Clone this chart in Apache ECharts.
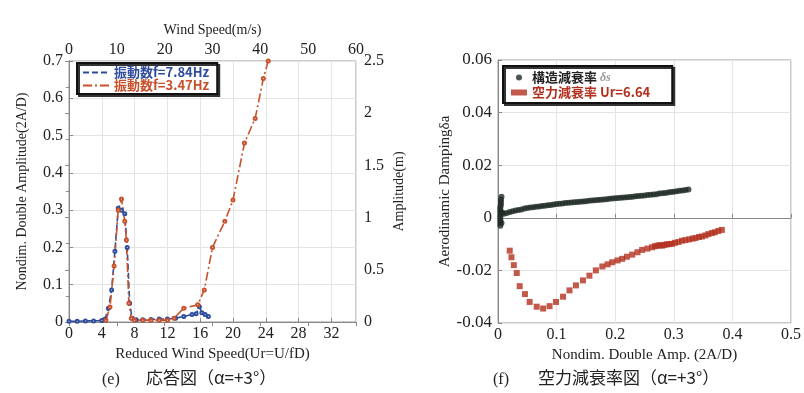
<!DOCTYPE html>
<html>
<head>
<meta charset="utf-8">
<script src="https://cdn.jsdelivr.net/npm/echarts@6/dist/echarts.min.js"></script>
<style>
  html, body { margin: 0; padding: 0; background: #fff; }
  #chart { width: 804px; height: 393px; }
</style>
</head>
<body>
<div id="chart"></div>
<script>
// (e) response: reduced wind speed vs nondim. double amplitude
const blueUr = [0, 1, 2, 3, 4, 4.4, 4.8, 5.2, 5.6, 6.0, 6.4, 6.8, 7.1, 7.4, 7.7, 8.2, 9, 10, 11, 12, 13, 14, 15, 15.5, 15.9, 16.2, 16.6, 17];
const blueAmp = [0.002, 0.002, 0.003, 0.003, 0.004, 0.008, 0.037, 0.086, 0.19, 0.305, 0.3, 0.29, 0.2, 0.05, 0.01, 0.006, 0.006, 0.007, 0.008, 0.008, 0.01, 0.015, 0.02, 0.022, 0.041, 0.025, 0.02, 0.015];
const redUr = [4.5, 5.0, 5.5, 6.0, 6.4, 6.8, 7.0, 7.3, 7.6, 8, 9, 10, 11, 12, 12.8, 14, 15.7, 16.5, 17.5, 19.0, 20.0, 21.4, 22.7, 23.7, 24.3];
const redAmp = [0.005, 0.04, 0.15, 0.3, 0.33, 0.27, 0.22, 0.05, 0.01, 0.005, 0.005, 0.005, 0.005, 0.005, 0.01, 0.037, 0.046, 0.086, 0.2, 0.27, 0.327, 0.48, 0.546, 0.653, 0.7];

// (f) damping: nondim. double amp vs damping
const structAmp = [0.004, 0.004, 0.004, 0.004, 0.004, 0.004, 0.004, 0.004, 0.005, 0.005, 0.005, 0.006, 0.006, 0.007,
  0.01, 0.015, 0.02, 0.025, 0.03, 0.035, 0.04, 0.045, 0.05, 0.055, 0.06, 0.065, 0.07, 0.075, 0.08, 0.085, 0.09, 0.095,
  0.1, 0.105, 0.11, 0.115, 0.12, 0.125, 0.13, 0.135, 0.14, 0.145, 0.15, 0.155, 0.16, 0.165, 0.17, 0.175, 0.18, 0.185,
  0.19, 0.195, 0.2, 0.205, 0.21, 0.215, 0.22, 0.225, 0.23, 0.235, 0.24, 0.245, 0.25, 0.255, 0.26, 0.265, 0.27, 0.275,
  0.28, 0.285, 0.29, 0.295, 0.3, 0.305, 0.31, 0.315, 0.32, 0.325];
const structDamp = [-0.003, -0.002, -0.001, 0, 0.001, 0.002, 0.003, 0.004, 0.005, 0.006, 0.007, 0.008, -0.002, 0.002,
  0.0015, 0.0018, 0.0022, 0.0025, 0.0028, 0.003, 0.0032, 0.0035, 0.0037, 0.0039, 0.004, 0.0042, 0.0043, 0.0045, 0.0046, 0.0048, 0.0049, 0.0051,
  0.0052, 0.0053, 0.0054, 0.0056, 0.0057, 0.0058, 0.0059, 0.006, 0.0061, 0.0062, 0.0063, 0.0065, 0.0066, 0.0067, 0.0068, 0.0069, 0.007, 0.0071,
  0.0072, 0.0073, 0.0074, 0.0075, 0.0076, 0.0077, 0.0078, 0.0079, 0.008, 0.0082, 0.0083, 0.0084, 0.0085, 0.0087, 0.0088, 0.0089, 0.009, 0.0092,
  0.0093, 0.0094, 0.0096, 0.0098, 0.0099, 0.0101, 0.0103, 0.0104, 0.0106, 0.0108];
const aeroAmp = [0.02, 0.023, 0.027, 0.032, 0.037, 0.046, 0.054, 0.066, 0.077, 0.088, 0.099, 0.111, 0.122, 0.133, 0.145,
  0.156, 0.167, 0.178, 0.187, 0.195, 0.204, 0.212, 0.22, 0.229, 0.238, 0.246, 0.255, 0.263, 0.268, 0.272, 0.276, 0.28,
  0.284, 0.288, 0.292, 0.297, 0.302, 0.308, 0.314, 0.32, 0.326, 0.332, 0.337, 0.343, 0.348, 0.354, 0.359, 0.365, 0.37, 0.376, 0.382];
const aeroDamp = [-0.0125, -0.015, -0.018, -0.021, -0.026, -0.029, -0.032, -0.0338, -0.0345, -0.0336, -0.032, -0.03, -0.0276, -0.0257, -0.0238,
  -0.022, -0.02, -0.0185, -0.0177, -0.0169, -0.0162, -0.0156, -0.0148, -0.014, -0.0131, -0.0122, -0.0117, -0.0112, -0.0108, -0.0106, -0.0104, -0.0106,
  -0.0103, -0.0101, -0.01, -0.0099, -0.0095, -0.0092, -0.0087, -0.0085, -0.0082, -0.0079, -0.0077, -0.0073, -0.0071, -0.0067, -0.0062, -0.0058, -0.0055, -0.005, -0.0046];

const zip = (xs, ys) => xs.map((x, i) => [x, ys[i]]);

const serif = 'Liberation Serif';
const cjk = 'Noto Sans CJK JP';
const blue = '#2d4c9c';
const red = '#c8502a';
const dred = '#b3301e';

const axisCommon = {
  axisLine: { lineStyle: { color: '#888' } },
  axisTick: { inside: true, length: 4, lineStyle: { color: '#888' } },
  axisLabel: { color: '#222', fontFamily: serif, fontSize: 16 },
  nameTextStyle: { color: '#222', fontFamily: serif, fontSize: 15 },
  nameLocation: 'middle',
};
const grid = { lineStyle: { color: '#e4e4e4' } };

const chart = echarts.init(document.getElementById('chart'));
chart.setOption({
  backgroundColor: '#fff',
  animation: false,
  grid: [
    { left: 69, top: 61, width: 287, height: 261, show: true, borderColor: '#999' },
    { left: 498, top: 60, width: 295, height: 263, show: true, borderColor: '#999' },
  ],
  xAxis: [
    Object.assign({}, axisCommon, {
      gridIndex: 0, type: 'value', min: 0, max: 35, interval: 4, position: 'bottom',
      name: 'Reduced Wind Speed(Ur=U/fD)', nameGap: 22,
      axisLabel: Object.assign({}, axisCommon.axisLabel, { showMaxLabel: false, margin: 4 }),
      splitLine: grid,
    }),
    Object.assign({}, axisCommon, {
      gridIndex: 0, type: 'value', min: 0, max: 60, interval: 10, position: 'top',
      name: 'Wind Speed(m/s)', nameGap: 21,
      axisLabel: Object.assign({}, axisCommon.axisLabel, { margin: 3 }),
      nameTextStyle: Object.assign({}, axisCommon.nameTextStyle, { fontSize: 14 }),
      splitLine: { show: false },
    }),
    Object.assign({}, axisCommon, {
      gridIndex: 1, type: 'value', min: 0, max: 0.5, interval: 0.1,
      name: 'Nondim. Double Amp. (2A/D)', nameGap: 22,
      axisLabel: Object.assign({}, axisCommon.axisLabel, { margin: 4 }),
      splitLine: grid,
    }),
  ],
  yAxis: [
    Object.assign({}, axisCommon, {
      gridIndex: 0, type: 'value', min: 0, max: 0.7, interval: 0.1,
      name: 'Nondim. Double Amplitude(2A/D)', nameGap: 40,
      axisLabel: Object.assign({}, axisCommon.axisLabel, { margin: 6 }),
      nameTextStyle: Object.assign({}, axisCommon.nameTextStyle, { fontSize: 14 }),
      splitLine: grid,
    }),
    Object.assign({}, axisCommon, {
      gridIndex: 0, type: 'value', min: 0, max: 2.5, interval: 0.5, position: 'right',
      name: 'Amplitude(m)', nameGap: 36,
      nameTextStyle: Object.assign({}, axisCommon.nameTextStyle, { fontSize: 14 }),
      minorTick: { show: true, splitNumber: 2, length: 3, lineStyle: { color: '#888' } },
      splitLine: { show: false },
    }),
    Object.assign({}, axisCommon, {
      gridIndex: 1, type: 'value', min: -0.04, max: 0.06, interval: 0.02,
      name: 'Aerodinamic Dampingδa', nameGap: 44,
      axisLabel: Object.assign({}, axisCommon.axisLabel, { fontSize: 17, margin: 6 }),
      splitLine: grid,
    }),
  ],
  legend: [
    {
      left: 77, top: 63, orient: 'vertical', itemGap: 0, itemWidth: 26, itemHeight: 10,
      padding: [3, 8, 2, 5], borderColor: '#111', borderWidth: 2, backgroundColor: '#fff',
      shadowColor: '#333', shadowOffsetX: 2, shadowOffsetY: 2, shadowBlur: 0,
      itemStyle: { opacity: 0 },
      textStyle: { fontFamily: cjk, fontWeight: 'bold', fontSize: 13 },
      data: [
        { name: '振動数f=7.84Hz', textStyle: { color: blue } },
        { name: '振動数f=3.47Hz', textStyle: { color: red } },
      ],
    },
    {
      left: 503, top: 66, orient: 'vertical', itemGap: 2, itemWidth: 16, itemHeight: 6,
      padding: [5, 22, 4, 8], borderColor: '#111', borderWidth: 2, backgroundColor: '#fff',
      shadowColor: '#333', shadowOffsetX: 2, shadowOffsetY: 2, shadowBlur: 0,
      textStyle: {
        fontFamily: cjk, fontWeight: 'bold', fontSize: 13,
        rich: {
          k: { fontFamily: cjk, fontWeight: 'bold', fontSize: 13, color: '#222' },
          s: { fontFamily: serif, fontStyle: 'italic', fontSize: 12, color: '#999' },
          r: { fontFamily: cjk, fontWeight: 'bold', fontSize: 13, color: dred },
        },
      },
      formatter: (n) => n === '構造減衰率 δs' ? '{k|構造減衰率} {s|δs}' : '{r|' + n + '}',
      data: [
        { name: '構造減衰率 δs', icon: 'circle' },
        { name: '空力減衰率 Ur=6.64', icon: 'rect' },
      ],
    },
  ],
  series: [
    {
      name: '振動数f=7.84Hz', type: 'line', xAxisIndex: 0, yAxisIndex: 0,
      data: zip(blueUr, blueAmp), symbol: 'emptyCircle', symbolSize: 3,
      lineStyle: { color: blue, width: 1.6, type: [6, 3] },
      itemStyle: { color: blue, borderColor: '#b8c4e0', borderWidth: 1 },
    },
    {
      name: '振動数f=3.47Hz', type: 'line', xAxisIndex: 0, yAxisIndex: 0,
      data: zip(redUr, redAmp), symbol: 'emptyCircle', symbolSize: 3,
      lineStyle: { color: red, width: 1.6, type: [9, 3, 2, 3] },
      itemStyle: { color: red, borderColor: '#f0c8a8', borderWidth: 1 },
    },
    {
      name: '構造減衰率 δs', type: 'scatter', xAxisIndex: 2, yAxisIndex: 2,
      data: zip(structAmp, structDamp), symbol: 'circle', symbolSize: 6,
      itemStyle: { color: '#1f2b24' },
    },
    {
      name: '空力減衰率 Ur=6.64', type: 'scatter', xAxisIndex: 2, yAxisIndex: 2,
      data: zip(aeroAmp, aeroDamp), symbol: 'rect', symbolSize: 6,
      itemStyle: { color: dred },
    },
  ],
  graphic: [
    { type: 'text', left: 102, top: 372, style: { text: '(e)', font: '16px ' + serif, fill: '#222' } },
    { type: 'text', left: 146, top: 369, style: { text: '応答図（α=+3°）', font: '17px "' + cjk + '"', fill: '#222' } },
    { type: 'text', left: 493, top: 372, style: { text: '(f)', font: '16px ' + serif, fill: '#222' } },
    { type: 'text', left: 538, top: 369, style: { text: '空力減衰率図（α=+3°）', font: '17px "' + cjk + '"', fill: '#222' } },
  ],
});
</script>
</body>
</html>
